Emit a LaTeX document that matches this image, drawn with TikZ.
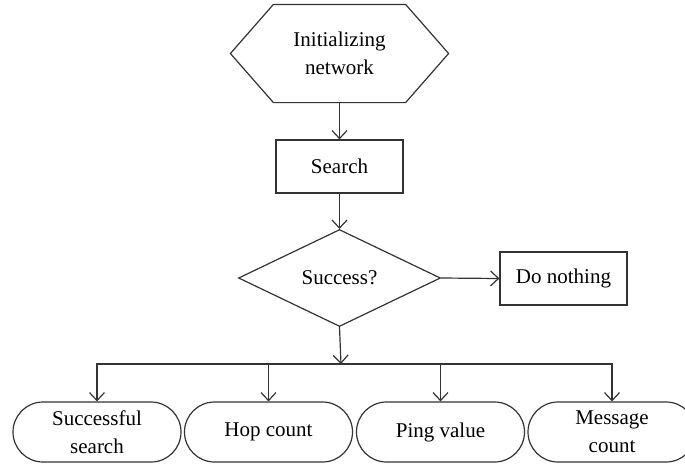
\documentclass[tikz,border=0pt]{standalone}
\usepackage{fontspec}
\setmainfont{Liberation Serif}
\usetikzlibrary{shapes.geometric,arrows.meta}
\begin{document}
\begin{tikzpicture}[x=1pt,y=-1pt,
  line width=1.2pt,
  every node/.style={font=\fontsize{21}{28}\selectfont, text=black, align=center, inner sep=0pt},
  flow/.style={draw=black!80, -{Straight Barb[length=8pt,width=15pt]}},
  plain/.style={draw=black!80},
  box/.style={draw=black!80, rectangle, minimum width=127pt, minimum height=53pt},
  term/.style={draw=black!80, rectangle, rounded corners=30pt, minimum width=168pt, minimum height=60pt},
  dec/.style={draw=black!80, diamond, aspect=2.1, minimum width=202pt, minimum height=97pt}]
\useasboundingbox (0,0) rectangle (685,464);
% hexagon
\node (init) at (339.5,53.5) [minimum width=217pt, minimum height=97pt] {Initializing\\network};
\draw[plain] (init.west) -- ([xshift=43pt]init.north west) -- ([xshift=-43pt]init.north east)
  -- (init.east) -- ([xshift=-43pt]init.south east) -- ([xshift=43pt]init.south west) -- cycle;
\node[box] (search) at (339.5,166.5) {Search};
\node[dec] (succ) at (339.5,278) {Success?};
\node[box] (nothing) at (563.5,278.5) {Do nothing};
\coordinate (junc) at (341,364);
\node[term] (s1) at (97,432) {Successful\\search};
\node[term] (s2) at (268.5,432) {Hop count};
\node[term] (s3) at (440.5,432) {Ping value};
\node[term] (s4) at (612,432) {Message\\count};
\draw[flow] (init.south) -- (search.north);
\draw[flow] (search.south) -- (succ.north);
\draw[flow] (succ.east) -- (nothing.west);
\draw[flow] (succ.south) -- (junc);
\draw[flow] (junc) -| (s1.north);
\draw[flow] (junc) -| (s4.north);
\foreach \n in {s2,s3} \draw[flow] (\n.north |- junc) -- (\n.north);
\end{tikzpicture}
\end{document}
